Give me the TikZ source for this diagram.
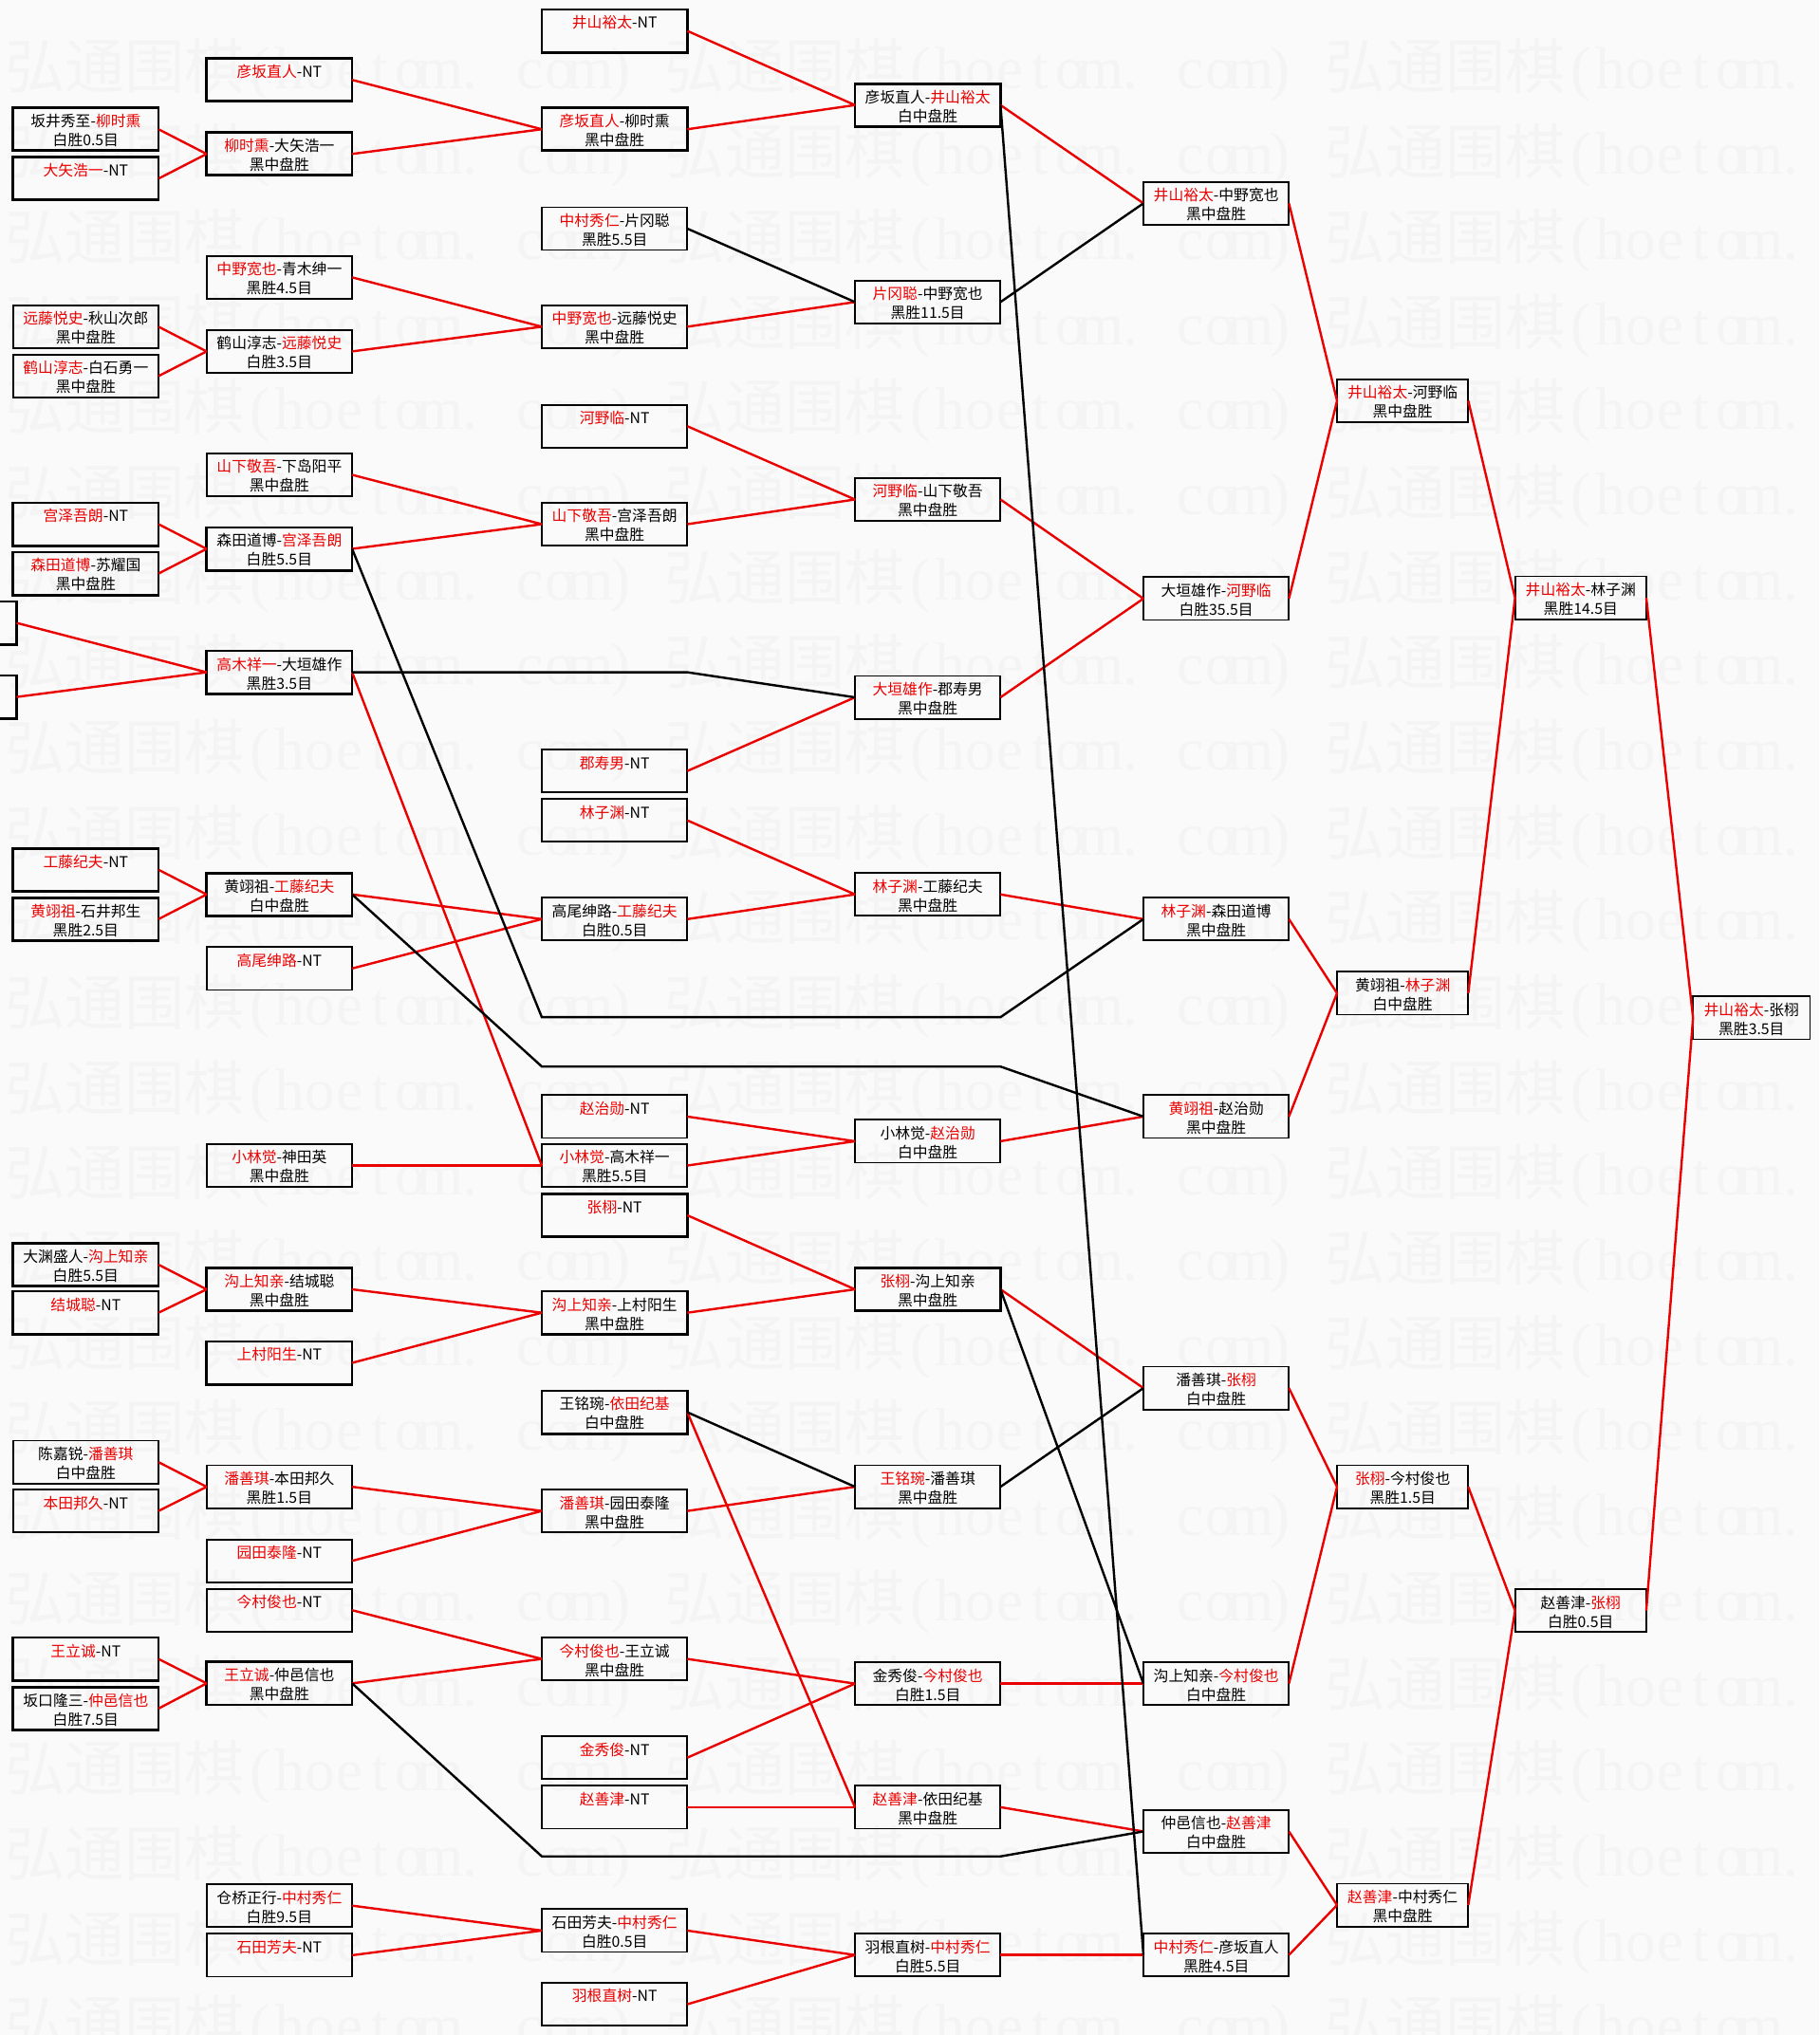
\documentclass[tikz,border=0pt]{standalone}
\usepackage{fontspec}
\setmainfont{Noto Sans CJK SC}
\newfontfamily\wmserif{Liberation Serif}
\definecolor{mred}{RGB}{235,0,0}
\definecolor{bgc}{RGB}{250,250,250}
\definecolor{wmc}{RGB}{244,244,244}
\newdimen\U \U=0.68465pt
\newcommand\R[1]{\textcolor{mred}{#1}}
\newcommand\F[1]{\makebox[46.2\U][c]{#1}}
\newcommand\Hf[1]{\makebox[23.1\U][c]{\wmserif #1}}
\newcommand\wmg{\F{弘}\F{通}\F{围}\F{棋}\Hf{(}\Hf{h}\Hf{o}\Hf{e}\Hf{t}\Hf{o}\Hf{m}\Hf{.}\hspace*{23.1\U}\Hf{c}\Hf{o}\Hf{m}\Hf{)}\hspace*{23.1\U}}
\tikzset{
  box/.style={draw=black, rectangle, inner sep=0pt, outer sep=0pt, anchor=north west},
  bxA/.style={line width=1.4pt},
  bxB/.style={line width=0.9pt},
  rl/.style={draw=mred, line width=1.2pt},
  bl/.style={draw=black, line width=1.2pt},
  wm/.style={text=wmc, inner sep=0pt, outer sep=0pt, anchor=base west, font=\fontsize{31.6pt}{32pt}\selectfont}
}
\newcommand\B[7][bxB]{\node[box,#1] (#2) at (#3,#4) {\parbox[c][33\U][t]{#5\U}{\centering\fontsize{7.9pt}{10pt}\selectfont\rule{0pt}{10pt}#6\par #7}};}
\begin{document}
\begin{tikzpicture}[x=0.68465pt,y=-0.68465pt]
\useasboundingbox (0,0) rectangle (1400,1566.5);
\clip (0,0) rectangle (1400,1566.5);
\fill[bgc] (0,0) rectangle (1400,1566.5);
\foreach \k in {0,...,23}{
  \node[wm] (wm\k) at (3.7,68.6+65.5*\k) {\wmg\wmg\wmg};
}
% column 1
\B[bxA]{a1}{10}{83}{112}{坂井秀至-\R{柳时熏}}{白胜0.5目}
\B[bxA]{a2}{10}{121}{112}{\R{大矢浩一}-NT}{}
\B{a3}{10}{235}{112}{\R{远藤悦史}-秋山次郎}{黑中盘胜}
\B{a4}{10}{273}{112}{\R{鹤山淳志}-白石勇一}{黑中盘胜}
\B[bxA]{a5}{10}{387}{112}{\R{宫泽吾朗}-NT}{}
\B[bxA]{a6}{10}{425}{112}{\R{森田道博}-苏耀国}{黑中盘胜}
\B[bxA]{p1}{-99.2}{463}{112}{}{}
\B[bxA]{p2}{-99.2}{520}{112}{}{}
\B[bxA]{a7}{10}{653}{112}{\R{工藤纪夫}-NT}{}
\B[bxA]{a8}{10}{691}{112}{\R{黄翊祖}-石井邦生}{黑胜2.5目}
\B[bxA]{a9}{10}{957}{112}{大渊盛人-\R{沟上知亲}}{白胜5.5目}
\B[bxA]{a10}{10}{994}{112}{\R{结城聪}-NT}{}
\B{a11}{10}{1109}{112}{陈嘉锐-\R{潘善琪}}{白中盘胜}
\B{a12}{10}{1146.6}{112}{\R{本田邦久}-NT}{}
\B[bxA]{a13}{10}{1260.5}{112}{\R{王立诚}-NT}{}
\B[bxA]{a14}{10}{1298.7}{112}{坂口隆三-\R{仲邑信也}}{白胜7.5目}
% column 2
\B[bxA]{b1}{159}{45}{112}{\R{彦坂直人}-NT}{}
\B[bxA]{b2}{159}{102}{112}{\R{柳时熏}-大矢浩一}{黑中盘胜}
\B{b3}{159}{197}{112}{\R{中野宽也}-青木绅一}{黑胜4.5目}
\B{b4}{159}{254}{112}{鹤山淳志-\R{远藤悦史}}{白胜3.5目}
\B{b5}{159}{349}{112}{\R{山下敬吾}-下岛阳平}{黑中盘胜}
\B[bxA]{b6}{159}{406}{112}{森田道博-\R{宫泽吾朗}}{白胜5.5目}
\B[bxA]{b7}{159}{501}{112}{\R{高木祥一}-大垣雄作}{黑胜3.5目}
\B[bxA]{b8}{159}{672}{112}{黄翊祖-\R{工藤纪夫}}{白中盘胜}
\B{b9}{159}{729}{112}{\R{高尾绅路}-NT}{}
\B{b10}{159}{880.7}{112}{\R{小林觉}-神田英}{黑中盘胜}
\B[bxA]{b11}{159}{976}{112}{\R{沟上知亲}-结城聪}{黑中盘胜}
\B[bxA]{b12}{159}{1032.6}{112}{\R{上村阳生}-NT}{}
\B{b13}{159}{1128}{112}{\R{潘善琪}-本田邦久}{黑胜1.5目}
\B{b14}{159}{1185}{112}{\R{园田泰隆}-NT}{}
\B{b15}{159}{1223}{112}{\R{今村俊也}-NT}{}
\B[bxA]{b16}{159}{1279.3}{112}{\R{王立诚}-仲邑信也}{黑中盘胜}
\B{b17}{159}{1450.4}{112}{仓桥正行-\R{中村秀仁}}{白胜9.5目}
\B{b18}{159}{1488.6}{112}{\R{石田芳夫}-NT}{}
% column 3
\B[bxA]{c1}{417}{7.3}{112}{\R{井山裕太}-NT}{}
\B[bxA]{c2}{417}{83}{112}{\R{彦坂直人}-柳时熏}{黑中盘胜}
\B{c3}{417}{159.5}{112}{\R{中村秀仁}-片冈聪}{黑胜5.5目}
\B{c4}{417}{235}{112}{\R{中野宽也}-远藤悦史}{黑中盘胜}
\B{c5}{417}{311.6}{112}{\R{河野临}-NT}{}
\B{c6}{417}{387}{112}{\R{山下敬吾}-宫泽吾朗}{黑中盘胜}
\B{c7}{417}{577}{112}{\R{郡寿男}-NT}{}
\B{c8}{417}{615}{112}{\R{林子渊}-NT}{}
\B{c9}{417}{691}{112}{高尾绅路-\R{工藤纪夫}}{白胜0.5目}
\B{c10}{417}{843}{112}{\R{赵治勋}-NT}{}
\B{c11}{417}{880.7}{112}{\R{小林觉}-高木祥一}{黑胜5.5目}
\B[bxA]{c12}{417}{919}{112}{\R{张栩}-NT}{}
\B[bxA]{c13}{417}{994}{112}{\R{沟上知亲}-上村阳生}{黑中盘胜}
\B[bxA]{c14}{417}{1070.6}{112}{王铭琬-\R{依田纪基}}{白中盘胜}
\B{c15}{417}{1146.6}{112}{\R{潘善琪}-园田泰隆}{黑中盘胜}
\B{c16}{417}{1260.5}{112}{\R{今村俊也}-王立诚}{黑中盘胜}
\B{c17}{417}{1336.5}{112}{\R{金秀俊}-NT}{}
\B{c18}{417}{1374.6}{112}{\R{赵善津}-NT}{}
\B{c19}{417}{1469.6}{112}{石田芳夫-\R{中村秀仁}}{白胜0.5目}
\B{c20}{417}{1526.3}{112}{\R{羽根直树}-NT}{}
% column 4
\B[bxA]{d1}{658}{64.4}{112}{彦坂直人-\R{井山裕太}}{白中盘胜}
\B{d2}{658}{216}{112}{\R{片冈聪}-中野宽也}{黑胜11.5目}
\B{d3}{658}{368}{112}{\R{河野临}-山下敬吾}{黑中盘胜}
\B{d4}{658}{520.3}{112}{\R{大垣雄作}-郡寿男}{黑中盘胜}
\B{d5}{658}{672}{112}{\R{林子渊}-工藤纪夫}{黑中盘胜}
\B{d6}{658}{862}{112}{小林觉-\R{赵治勋}}{白中盘胜}
\B[bxA]{d7}{658}{976}{112}{\R{张栩}-沟上知亲}{黑中盘胜}
\B{d8}{658}{1128}{112}{\R{王铭琬}-潘善琪}{黑中盘胜}
\B{d9}{658}{1279.5}{112}{金秀俊-\R{今村俊也}}{白胜1.5目}
\B{d10}{658}{1374.6}{112}{\R{赵善津}-依田纪基}{黑中盘胜}
\B{d11}{658}{1488.4}{112}{羽根直树-\R{中村秀仁}}{白胜5.5目}
% column 5
\B{e1}{880}{140}{112}{\R{井山裕太}-中野宽也}{黑中盘胜}
\B{e2}{880}{444.3}{112}{大垣雄作-\R{河野临}}{白胜35.5目}
\B{e3}{880}{691}{112}{\R{林子渊}-森田道博}{黑中盘胜}
\B{e4}{880}{843}{112}{\R{黄翊祖}-赵治勋}{黑中盘胜}
\B{e5}{880}{1052}{112}{潘善琪-\R{张栩}}{白中盘胜}
\B{e6}{880}{1279.5}{112}{沟上知亲-\R{今村俊也}}{白中盘胜}
\B{e7}{880}{1393.3}{112}{仲邑信也-\R{赵善津}}{白中盘胜}
\B{e8}{880}{1488.4}{112}{\R{中村秀仁}-彦坂直人}{黑胜4.5目}
% column 6
\B{f1}{1029}{292}{101}{\R{井山裕太}-河野临}{黑中盘胜}
\B{f2}{1029}{748}{101}{黄翊祖-\R{林子渊}}{白中盘胜}
\B{f3}{1029}{1128}{101}{\R{张栩}-今村俊也}{黑胜1.5目}
\B{f4}{1029}{1450}{101}{\R{赵善津}-中村秀仁}{黑中盘胜}
% column 7
\B{g1}{1166}{443.7}{101}{\R{井山裕太}-林子渊}{黑胜14.5目}
\B{g2}{1166}{1223.3}{101}{赵善津-\R{张栩}}{白胜0.5目}
% column 8
\B{h1}{1303}{767}{90}{\R{井山裕太}-张栩}{黑胜3.5目}
% bend points
\coordinate (k1) at (417,783);
\coordinate (k2) at (770,783);
\coordinate (k3) at (417,821);
\coordinate (k4) at (770,821);
\coordinate (k5) at (417,1429);
\coordinate (k6) at (770,1429);
% col1 -> col2
\foreach \s/\t in {a1/b2,a2/b2,a3/b4,a4/b4,a5/b6,a6/b6,p1/b7,p2/b7,a7/b8,a8/b8,a9/b11,a10/b11,a11/b13,a12/b13,a13/b16,a14/b16}
  \draw[rl] (\s.east) -- (\t.west);
% col2 -> col3
\foreach \s/\t in {b1/c2,b2/c2,b3/c4,b4/c4,b5/c6,b6/c6,b7/c11,b8/c9,b9/c9,b10/c11,b11/c13,b12/c13,b13/c15,b14/c15,b15/c16,b16/c16,b17/c19,b18/c19}
  \draw[rl] (\s.east) -- (\t.west);
% col3 -> col4
\foreach \s/\t in {c1/d1,c2/d1,c4/d2,c5/d3,c6/d3,c7/d4,c8/d5,c9/d5,c10/d6,c11/d6,c12/d7,c13/d7,c15/d8,c14/d10,c16/d9,c17/d9,c18/d10,c19/d11,c20/d11}
  \draw[rl] (\s.east) -- (\t.west);
% col4 -> col5
\foreach \s/\t in {d1/e1,d3/e2,d4/e2,d5/e3,d6/e4,d7/e5,d9/e6,d10/e7,d11/e8}
  \draw[rl] (\s.east) -- (\t.west);
% later rounds
\foreach \s/\t in {e1/f1,e2/f1,e3/f2,e4/f2,e5/f3,e6/f3,e7/f4,e8/f4,f1/g1,f2/g1,f3/g2,f4/g2,g1/h1,g2/h1}
  \draw[rl] (\s.east) -- (\t.west);
% black connectors
\draw[bl] (c3.east) -- (d2.west);
\draw[bl] (c14.east) -- (d8.west);
\draw[bl] (d2.east) -- (e1.west);
\draw[bl] (d1.east) -- (e8.west);
\draw[bl] (d8.east) -- (e5.west);
\draw[bl] (d7.east) -- (e6.west);
\draw[bl] (b7.east) -- (b7.east -| c7.east) -- (d4.west);
\draw[bl] (b6.east) -- (k1) -- (k2) -- (e3.west);
\draw[bl] (b8.east) -- (k3) -- (k4) -- (e4.west);
\draw[bl] (b16.east) -- (k5) -- (k6) -- (e7.west);
\end{tikzpicture}
\end{document}
